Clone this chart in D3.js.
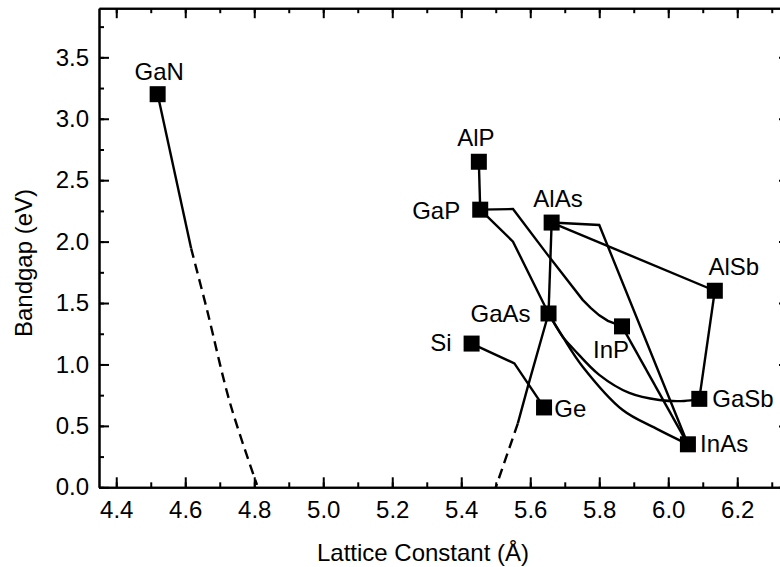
<!DOCTYPE html>
<html>
<head>
<meta charset="utf-8">
<script src="https://cdn.jsdelivr.net/npm/d3@7/dist/d3.min.js"></script>
<style>
  body { margin: 0; background: #fff; }
  svg { display: block; font-family: "Liberation Sans", Arial, sans-serif; }
</style>
</head>
<body>
<svg width="780" height="567"></svg>
<script>
// compounds: lattice constant (A) and bandgap (eV)
var compounds = ["GaN", "AlP", "GaP", "AlAs", "AlSb", "GaAs", "InP", "Si", "Ge", "GaSb", "InAs"];
var latticeConst = [4.52, 5.451, 5.455, 5.662, 6.135, 5.653, 5.866, 5.430, 5.640, 6.090, 6.057];
var bandgap = [3.20, 2.65, 2.26, 2.155, 1.60, 1.415, 1.31, 1.17, 0.65, 0.72, 0.35];

// alloy lines, [a, Eg] pairs
var GaInN = [[4.52, 3.20], [4.617, 1.945]];
var GaInN_dash = [[4.617, 1.945], [4.663, 1.445], [4.730, 0.684], [4.808, 0.02]];
var AlGaP = [[5.451, 2.65], [5.455, 2.26]];
var GaAsP = [[5.455, 2.26], [5.55, 2.0], [5.653, 1.415]];
var GaInP = [[5.455, 2.26], [5.55, 2.265], [5.65, 1.894], [5.752, 1.526], [5.775, 1.46], [5.80, 1.40], [5.825, 1.355], [5.848, 1.33], [5.866, 1.31]];
var AlGaAs = [[5.662, 2.155], [5.653, 1.415]];
var AlInAs = [[5.662, 2.155], [5.80, 2.135], [6.057, 0.35]];
var AlAsSb = [[5.662, 2.155], [6.135, 1.60]];
var AlGaSb = [[6.135, 1.60], [6.090, 0.72]];
var GaAsSb = [[5.653, 1.415], [5.694, 1.226], [5.728, 1.118], [5.80, 0.915], [5.887, 0.768], [5.974, 0.711], [6.046, 0.703], [6.090, 0.72]];
var InGaAs = [[5.653, 1.415], [5.694, 1.226], [5.752, 0.982], [5.868, 0.629], [5.964, 0.48], [6.057, 0.35]];
var InAsP = [[5.866, 1.31], [6.057, 0.35]];
var SiGe = [[5.430, 1.17], [5.554, 1.009], [5.640, 0.65]];
var GaAsN = [[5.653, 1.415], [5.593, 0.82], [5.564, 0.52]];
var GaAsN_dash = [[5.564, 0.52], [5.50, 0.0]];

var xMajor = [4.4, 4.6, 4.8, 5.0, 5.2, 5.4, 5.6, 5.8, 6.0, 6.2];
var yMajor = [0.0, 0.5, 1.0, 1.5, 2.0, 2.5, 3.0, 3.5];

var svg = d3.select("svg");
var plotLeft = 99, plotRight = 789, plotTop = 8.2, plotBottom = 487.3;

var x = d3.scaleLinear().domain([4.35, 6.35]).range([plotLeft, plotRight]);
var y = d3.scaleLinear().domain([0, 3.9]).range([plotBottom, plotTop]);

var xMinor = d3.range(43, 64).map(function(d) { return d / 10; }).filter(function(d) { return d > 4.35 && d < 6.35; });
var yMinor = d3.range(0, 16).map(function(d) { return d / 4; }).filter(function(d) { return d < 3.9; });

function styleAxis(g) {
  g.attr("font-size", 24).attr("font-family", "Liberation Sans, Arial, sans-serif");
  g.selectAll("path").attr("stroke", "#000").attr("stroke-width", 2);
  g.selectAll("line").attr("stroke", "#000").attr("stroke-width", 2);
  g.selectAll("text").attr("fill", "#000");
}

// minor ticks first
svg.append("g").attr("transform", "translate(0," + plotBottom + ")")
  .call(d3.axisBottom(x).tickValues(xMinor).tickSizeInner(-5).tickSizeOuter(0).tickFormat(""))
  .call(styleAxis);
svg.append("g").attr("transform", "translate(0," + plotTop + ")")
  .call(d3.axisTop(x).tickValues(xMinor).tickSizeInner(-5).tickSizeOuter(0).tickFormat(""))
  .call(styleAxis);
svg.append("g").attr("transform", "translate(" + plotLeft + ",0)")
  .call(d3.axisLeft(y).tickValues(yMinor).tickSizeInner(-5).tickSizeOuter(0).tickFormat(""))
  .call(styleAxis);
svg.append("g").attr("transform", "translate(" + plotRight + ",0)")
  .call(d3.axisRight(y).tickValues(yMinor).tickSizeInner(-5).tickSizeOuter(0).tickFormat(""))
  .call(styleAxis);

// major ticks
svg.append("g").attr("transform", "translate(0," + plotBottom + ")")
  .call(d3.axisBottom(x).tickValues(xMajor).tickSizeInner(-10).tickSizeOuter(0).tickPadding(14).tickFormat(d3.format(".1f")))
  .call(styleAxis);
svg.append("g").attr("transform", "translate(0," + plotTop + ")")
  .call(d3.axisTop(x).tickValues(xMajor).tickSizeInner(-10).tickSizeOuter(0).tickFormat(""))
  .call(styleAxis);
svg.append("g").attr("transform", "translate(" + plotLeft + ",0)")
  .call(d3.axisLeft(y).tickValues(yMajor).tickSizeInner(-10).tickSizeOuter(0).tickPadding(10).tickFormat(d3.format(".1f")))
  .call(styleAxis);
svg.append("g").attr("transform", "translate(" + plotRight + ",0)")
  .call(d3.axisRight(y).tickValues(yMajor).tickSizeInner(-10).tickSizeOuter(0).tickFormat(""))
  .call(styleAxis);

// axis titles
svg.append("text")
  .attr("x", 423).attr("y", 561)
  .attr("text-anchor", "middle")
  .attr("font-size", 24)
  .text("Lattice Constant (Å)");
svg.append("text")
  .attr("transform", "translate(32,263) rotate(-90)")
  .attr("text-anchor", "middle")
  .attr("font-size", 24)
  .text("Bandgap (eV)");

// lines
var straight = d3.line().x(function(d) { return x(d[0]); }).y(function(d) { return y(d[1]); });
var smooth = d3.line().curve(d3.curveCatmullRom.alpha(0.5)).x(function(d) { return x(d[0]); }).y(function(d) { return y(d[1]); });

var lines = [
  {pts: GaInN, gen: straight},
  {pts: GaInN_dash, gen: smooth, dash: true},
  {pts: AlGaP, gen: straight},
  {pts: GaAsP, gen: straight},
  {pts: GaInP, gen: straight},
  {pts: AlGaAs, gen: straight},
  {pts: AlInAs, gen: straight},
  {pts: AlAsSb, gen: straight},
  {pts: AlGaSb, gen: straight},
  {pts: GaAsSb, gen: smooth},
  {pts: InGaAs, gen: smooth},
  {pts: InAsP, gen: straight},
  {pts: SiGe, gen: straight},
  {pts: GaAsN, gen: straight},
  {pts: GaAsN_dash, gen: straight, dash: true}
];

svg.append("g")
  .selectAll("path")
  .data(lines)
  .enter().append("path")
    .attr("d", function(d) { return d.gen(d.pts); })
    .attr("fill", "none")
    .attr("stroke", "#000")
    .attr("stroke-width", 2.4)
    .attr("stroke-linejoin", "miter")
    .attr("stroke-dasharray", function(d) { return d.dash ? "10,6" : null; });

// points
var pts = compounds.map(function(c, i) { return {name: c, a: latticeConst[i], eg: bandgap[i]}; });
var sq = 16;
svg.append("g")
  .selectAll("rect")
  .data(pts)
  .enter().append("rect")
    .attr("x", function(d) { return x(d.a) - sq / 2; })
    .attr("y", function(d) { return y(d.eg) - sq / 2; })
    .attr("width", sq)
    .attr("height", sq)
    .attr("fill", "#000");

// label placement: dx, dy from point centre, anchor
var labelPos = {
  GaN: [1.5, -14.5, "middle"],
  AlP: [-3, -15.3, "middle"],
  GaP: [-20, 9.8, "end"],
  AlAs: [6.4, -15.5, "middle"],
  AlSb: [19, -16.2, "middle"],
  GaAs: [-18, 8.2, "end"],
  InP: [-11, 32, "middle"],
  Si: [-20, 7.7, "end"],
  Ge: [10.3, 10, "start"],
  GaSb: [13, 8, "start"],
  InAs: [12.2, 7.8, "start"]
};

svg.append("g")
  .attr("font-size", 24)
  .selectAll("text")
  .data(pts)
  .enter().append("text")
    .attr("x", function(d) { return x(d.a) + labelPos[d.name][0]; })
    .attr("y", function(d) { return y(d.eg) + labelPos[d.name][1]; })
    .attr("text-anchor", function(d) { return labelPos[d.name][2]; })
    .text(function(d) { return d.name; });
</script>
</body>
</html>
